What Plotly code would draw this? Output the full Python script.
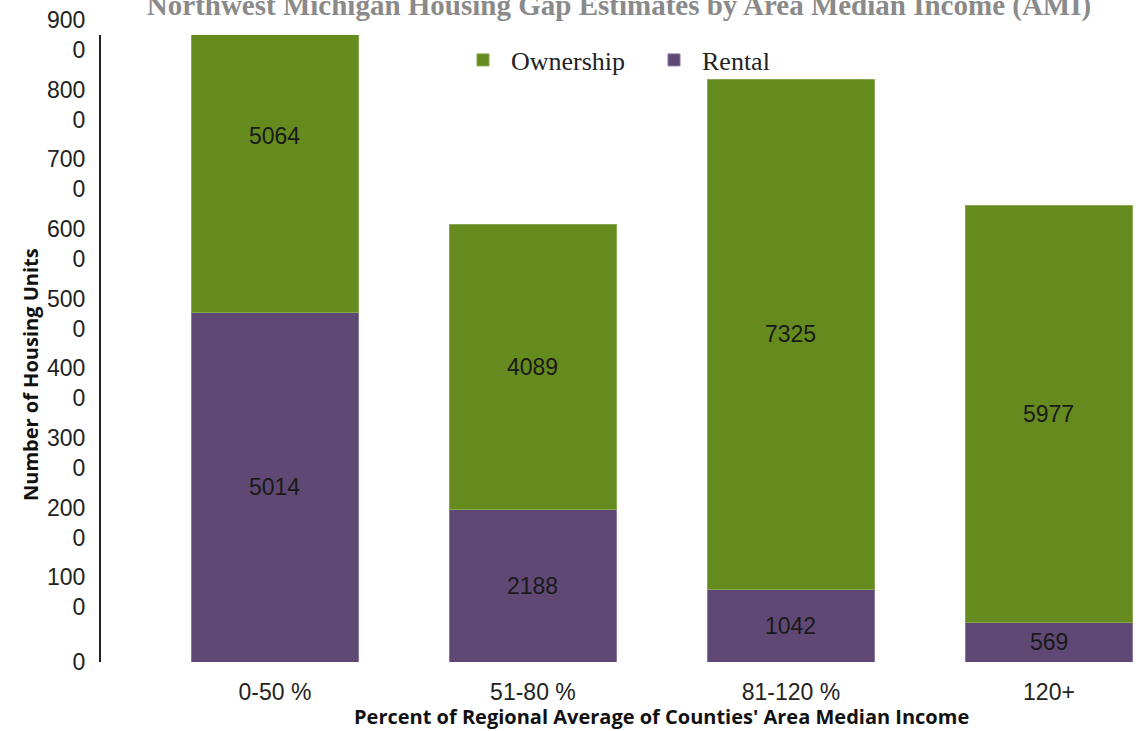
import plotly.graph_objects as go

categories = ["0-50 %", "51-80 %", "81-120 %", "120+"]
rental = [5014, 2188, 1042, 569]
ownership = [5064, 4089, 7325, 5977]
y_tick_vals = [0, 1000, 2000, 3000, 4000, 5000, 6000, 7000, 8000, 9000]
y_tick_text = ["0", "100<br>0", "200<br>0", "300<br>0", "400<br>0", "500<br>0",
               "600<br>0", "700<br>0", "800<br>0", "900<br>0"]

GREEN = "#658a1e"
PURPLE = "#5f4874"
SANS = "Liberation Sans, Arial, sans-serif"

fig = go.Figure()
fig.add_trace(go.Bar(x=categories, y=rental, name="Rental", marker_color=PURPLE,
                     marker_line=dict(color="#8a76a0", width=1), width=0.65))
fig.add_trace(go.Bar(x=categories, y=ownership, name="Ownership", marker_color=GREEN,
                     marker_line=dict(color="#86a850", width=1), width=0.65))

annotations = []
for c, r, o in zip(categories, rental, ownership):
    annotations.append(dict(x=c, y=r / 2, text=str(r), showarrow=False, xref="x", yref="y",
                            font=dict(family=SANS, size=23, color="#1a1a1a")))
    annotations.append(dict(x=c, y=r + o / 2, text=str(o), showarrow=False, xref="x", yref="y",
                            font=dict(family=SANS, size=23, color="#1a1a1a")))

# axis titles (positioned as in the reference, slightly off-centre)
annotations.append(dict(text="<b>Percent of Regional Average of Counties' Area Median Income</b>",
                        x=(661 - 101) / 1046, xref="paper", xanchor="center",
                        y=-(716 - 662) / 627, yref="paper", yanchor="middle", showarrow=False,
                        font=dict(family="Open Sans, sans-serif", size=20, color="#111")))
annotations.append(dict(text="<b>Number of Housing Units</b>", textangle=-90,
                        x=-(101 - 30) / 1046, xref="paper", xanchor="center",
                        y=(662 - 375) / 627, yref="paper", yanchor="middle", showarrow=False,
                        font=dict(family="Open Sans, sans-serif", size=20, color="#111")))

fig.update_layout(
    width=1147, height=731,
    margin=dict(l=101, r=0, t=35, b=69),
    paper_bgcolor="white", plot_bgcolor="white",
    barmode="stack",
    title=dict(text="<b>Northwest Michigan Housing Gap Estimates by Area Median Income (AMI)</b>",
               x=(619) / 1147, xanchor="center", y=1 - 5 / 731, yanchor="middle", yref="container",
               font=dict(family="Liberation Serif, DejaVu Serif, serif", size=29, color="#8a8a8a")),
    legend=dict(orientation="h", x=(455 - 101) / 1046, xanchor="left", y=(662 - 60) / 627,
                yanchor="middle", traceorder="reversed",
                font=dict(family="Liberation Serif, serif", size=26, color="#222"),
                bgcolor="rgba(0,0,0,0)", itemwidth=46, entrywidth=130),
    xaxis=dict(range=[-0.674, 3.38], showline=False, showgrid=False, ticks="",
               tickfont=dict(family=SANS, size=23, color="#222"), ticklabelstandoff=14),
    yaxis=dict(range=[0, 9000], showline=True, linecolor="#222", linewidth=2, showgrid=False,
               zeroline=False, ticks="", tickvals=y_tick_vals, ticktext=y_tick_text,
               tickfont=dict(family=SANS, size=23, color="#222"), ticklabelstandoff=9),
    annotations=annotations,
    showlegend=True,
)

fig.write_html("out.html")
